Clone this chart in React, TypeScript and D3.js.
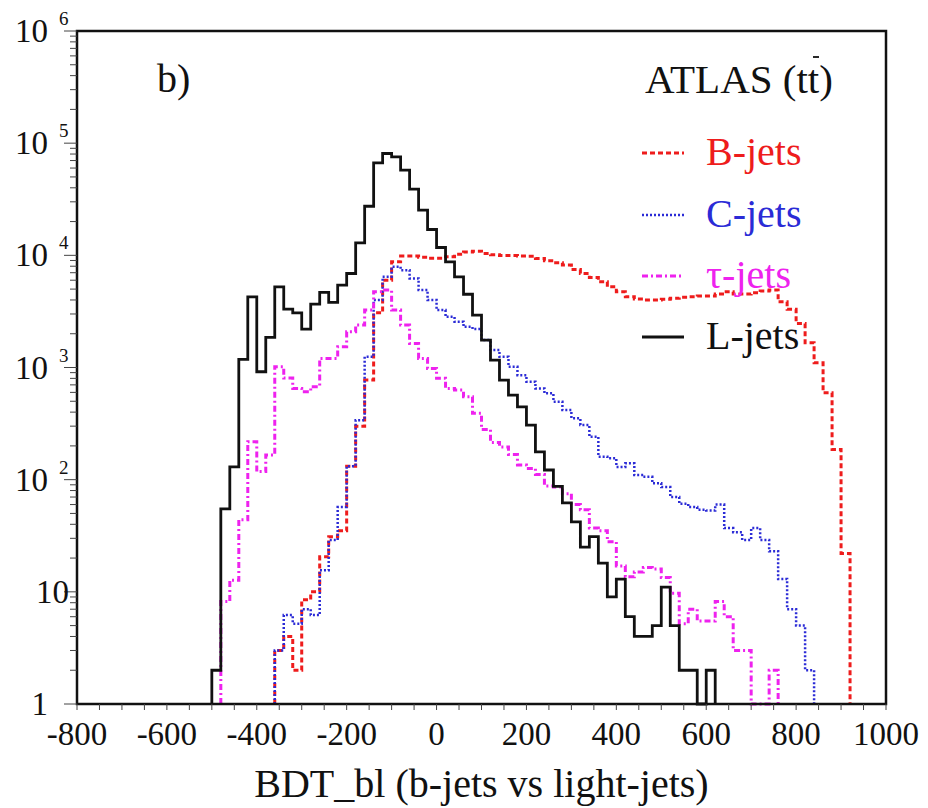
import React from "react";
import * as d3 from "d3";

// Histogram bins: lower edges start at -500, width 20
const BIN_START = -500;
const BIN_WIDTH = 20;

const lJets = [
  2, 55, 130, 1180, 4270, 916, 1855, 5240, 3315, 3070,
  2200, 3670, 4670, 3800, 5420, 6890, 12900, 27400, 66700, 80900,
  75500, 57400, 38900, 25300, 17000, 11750, 8750, 6430, 4500, 2930,
  1755, 1165, 772, 567, 446, 307, 177, 122, 87, 62,
  42, 25, 31, 18, 9, 13, 6, 4, 4, 5,
  11, 5, 2, 2, 0, 2, 0, 0, 0, 0,
  0, 0, 0, 0, 0, 0, 0, 0, 0, 0, 0,
];

const tauJets = [
  0, 8.2, 12.7, 44, 218, 118, 166, 1015, 805, 650,
  608, 675, 1205, 1205, 1530, 2080, 2390, 3250, 4730, 4900,
  3250, 2390, 1640, 1205, 982, 800, 650, 629, 548, 390,
  280, 215, 196, 168, 135, 126, 111, 88, 86, 75,
  60, 54, 37, 35, 28, 17, 13.6, 15, 16.5, 16,
  13.4, 9.7, 5.2, 7, 5.5, 5.5, 8.2, 6, 3, 3,
  0, 0, 2, 0, 0, 0, 0, 0, 0, 0, 0,
];

const cJets = [
  0, 0, 0, 0, 0, 0, 0, 3, 6.2, 5.2,
  7, 6.2, 15.6, 29, 57, 132, 338, 1245, 3990, 6430,
  7900, 7380, 6220, 4900, 3990, 3250, 2830, 2560, 2305, 2200,
  1755, 1430, 1245, 1015, 855, 746, 650, 588, 495, 417,
  352, 307, 241, 160, 155, 130, 140, 110, 106, 93,
  86, 70, 61, 57, 54, 53, 60, 37, 34, 29,
  37, 29, 23, 13, 7, 5, 2, 0, 0, 0, 0,
];

const bJets = [
  0, 0, 0, 0, 0, 0, 0, 3, 4, 2,
  8.5, 10, 20.5, 31, 35, 132, 300, 772, 3070, 6010,
  8750, 9840, 9840, 9600, 9400, 9400, 9700, 10200, 10700, 10900,
  10400, 10100, 9950, 9950, 9850, 9800, 9380, 8940, 8570, 8180,
  7480, 6890, 6350, 5800, 5240, 4730, 4270, 4070, 3990, 3990,
  4050, 4140, 4230, 4270, 4330, 4330, 4510, 4730, 4510, 4510,
  4630, 4800, 4900, 3850, 3300, 2470, 1660, 1100, 595, 186, 22,
];

const xTickValues = [-800, -600, -400, -200, 0, 200, 400, 600, 800, 1000];
const yDecades = [0, 1, 2, 3, 4, 5, 6];

const seriesNames = ["B-jets", "C-jets", "\u03c4-jets", "L-jets"];

const FONT = "'Liberation Serif', 'Times New Roman', 'DejaVu Serif', serif";

const L = 77, R = 886, T = 31, B = 704;

const x = d3.scaleLinear().domain([-800, 1000]).range([L, R]);
const y = d3.scaleLog().domain([1, 1e6]).range([B, T]);

function stepPath(vals: number[]): string {
  const first = vals.findIndex((v) => v > 0);
  let last = vals.length - 1;
  while (last >= 0 && !(vals[last] > 0)) last--;
  if (first < 0) return "";
  const p = d3.path();
  const e0 = BIN_START + first * BIN_WIDTH;
  p.moveTo(x(e0), y(1));
  for (let i = first; i <= last; i++) {
    const lo = BIN_START + i * BIN_WIDTH;
    const hi = lo + BIN_WIDTH;
    const v = Math.max(1, vals[i]);
    p.lineTo(x(lo), y(v));
    p.lineTo(x(hi), y(v));
  }
  p.lineTo(x(BIN_START + (last + 1) * BIN_WIDTH), y(1));
  return p.toString();
}

const styles = [
  { data: bJets, color: "#ee1c1c", dash: "5,3", width: 3 },
  { data: cJets, color: "#2b2bd6", dash: "2,2", width: 2.5 },
  { data: tauJets, color: "#ee22ee", dash: "6,3,2,3", width: 3 },
  { data: lJets, color: "#111111", dash: "", width: 2.8 },
];

export default function App() {
  const xMinor = d3.range(-800, 1001, 50);
  const yMinor: number[] = [];
  for (let d = 0; d < 6; d++) for (let k = 2; k <= 9; k++) yMinor.push(k * Math.pow(10, d));
  const legendY = [153, 215, 276, 337];
  const legendColors = ["#ee1c1c", "#2b2bd6", "#ee22ee", "#111111"];
  return (
    <svg
      width={928}
      height={808}
      style={{ position: "absolute", left: 0, top: 0, background: "#fff" }}
      fontFamily={FONT}
    >
      <rect x={0} y={0} width={928} height={808} fill="#fff" />
      {/* histograms */}
      {styles.map((s, i) => (
        <path
          key={i}
          d={stepPath(s.data)}
          fill="none"
          stroke={s.color}
          strokeWidth={s.width}
          strokeDasharray={s.dash || undefined}
        />
      ))}
      {/* frame */}
      <rect x={L} y={T} width={R - L} height={B - T} fill="none" stroke="#111" strokeWidth={2.5} />
      {/* x ticks */}
      {xMinor.map((v) => (
        <line key={"xm" + v} x1={x(v)} x2={x(v)} y1={B} y2={B + 6} stroke="#444" strokeWidth={1} />
      ))}
      {xTickValues.map((v) => (
        <text key={"xl" + v} x={x(v)} y={745} textAnchor="middle" fontSize={33} fill="#111">
          {v}
        </text>
      ))}
      {/* y ticks */}
      {yMinor.map((v) => (
        <line key={"ym" + v} x1={L - 7} x2={L} y1={y(v)} y2={y(v)} stroke="#444" strokeWidth={1} />
      ))}
      {yDecades.map((d) => (
        <line key={"yM" + d} x1={L - 13} x2={L} y1={y(Math.pow(10, d))} y2={y(Math.pow(10, d))} stroke="#444" strokeWidth={1} />
      ))}
      {yDecades.map((d) => {
        const yy = y(Math.pow(10, d));
        if (d === 0)
          return (
            <text key="yl0" x={48} y={yy + 11} textAnchor="end" fontSize={33} fill="#111">1</text>
          );
        if (d === 1)
          return (
            <text key="yl1" x={69} y={yy + 11} textAnchor="end" fontSize={33} fill="#111">10</text>
          );
        return (
          <g key={"yl" + d}>
            <text x={48} y={yy + 11} textAnchor="end" fontSize={33} fill="#111">10</text>
            <text x={59} y={yy - 6} fontSize={19} fill="#111">{d}</text>
          </g>
        );
      })}
      {/* axis title */}
      <text x={(L + R) / 2} y={797} textAnchor="middle" fontSize={40} fill="#111">
        BDT_bl (b-jets vs light-jets)
      </text>
      {/* panel label */}
      <text x={157} y={92} fontSize={40} fill="#111">b)</text>
      <text x={645} y={93} fontSize={41} fill="#111">ATLAS (tt)</text>
      <line x1={813} x2={819} y1={57} y2={57} stroke="#111" strokeWidth={1.8} />
      {/* legend */}
      {seriesNames.map((n, i) => (
        <g key={n}>
          <line
            x1={642}
            x2={684}
            y1={legendY[i]}
            y2={legendY[i]}
            stroke={legendColors[i]}
            strokeWidth={styles[i].width}
            strokeDasharray={styles[i].dash || undefined}
          />
          <text x={706} y={legendY[i] + 12} fontSize={40} fill={i === 3 ? "#111" : legendColors[i]}>
            {n}
          </text>
        </g>
      ))}
    </svg>
  );
}
